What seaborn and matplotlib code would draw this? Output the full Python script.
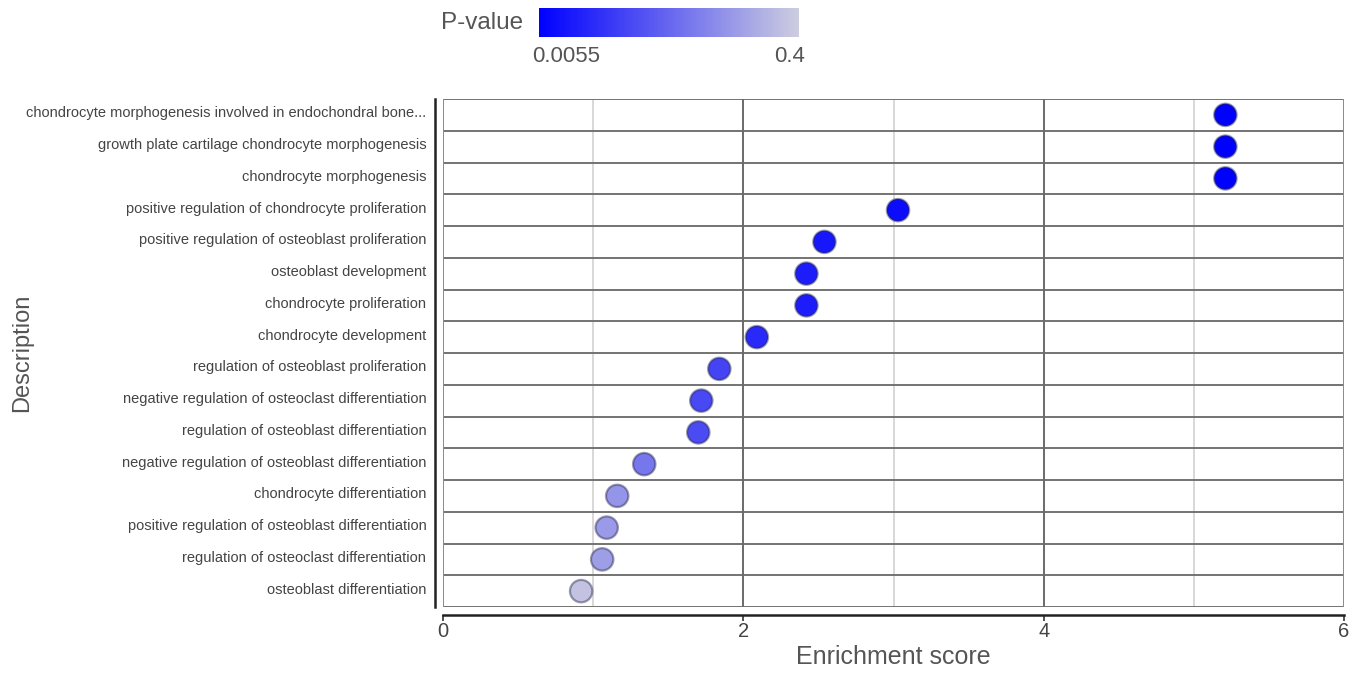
import numpy as np
import pandas as pd
import matplotlib
matplotlib.use("Agg")
import matplotlib.pyplot as plt
from matplotlib.colors import LinearSegmentedColormap, Normalize
from matplotlib.colorbar import ColorbarBase
from matplotlib.transforms import ScaledTranslation
import seaborn as sns

descriptions = [
    "chondrocyte morphogenesis involved in endochondral bone...",
    "growth plate cartilage chondrocyte morphogenesis",
    "chondrocyte morphogenesis",
    "positive regulation of chondrocyte proliferation",
    "positive regulation of osteoblast proliferation",
    "osteoblast development",
    "chondrocyte proliferation",
    "chondrocyte development",
    "regulation of osteoblast proliferation",
    "negative regulation of osteoclast differentiation",
    "regulation of osteoblast differentiation",
    "negative regulation of osteoblast differentiation",
    "chondrocyte differentiation",
    "positive regulation of osteoblast differentiation",
    "regulation of osteoclast differentiation",
    "osteoblast differentiation",
]
enrichment = [5.21, 5.21, 5.21, 3.03, 2.54, 2.42, 2.42, 2.09,
              1.84, 1.72, 1.70, 1.34, 1.16, 1.09, 1.06, 0.92]
pvalues = [0.0055, 0.0055, 0.0055, 0.03, 0.05, 0.062, 0.062, 0.085,
           0.135, 0.145, 0.15, 0.235, 0.29, 0.30, 0.31, 0.38]
p_min, p_max = 0.0055, 0.4
x_ticks = [0, 2, 4, 6]

df = pd.DataFrame({"Description": descriptions,
                   "Enrichment score": enrichment,
                   "P-value": pvalues})

sns.set_theme(style="white")
plt.rcParams["font.family"] = ["Liberation Sans", "DejaVu Sans"]

cmap = LinearSegmentedColormap.from_list("pblue", ["#0000ff", "#cdcde0"])

W, H = 1368, 673
fig = plt.figure(figsize=(W / 100, H / 100), dpi=100)
ax = fig.add_axes([443 / W, 1 - 607 / H, (1344 - 443) / W, (607 - 99) / H])

n = len(descriptions)

# panel grid: row separators and vertical guides
for i in range(n + 1):
    ax.axhline(i - 0.5, color="#737373", lw=1.4, zorder=1)
for xv in [1, 3, 5]:
    ax.axvline(xv, color="#d6d6d6", lw=1.3, zorder=0.5)
for xv in [2, 4]:
    ax.axvline(xv, color="#6a6a6a", lw=1.4, zorder=1)
for xv in [0, 6]:
    ax.axvline(xv, color="#8a8a8a", lw=1.4, zorder=1)

sns.scatterplot(data=df, x="Enrichment score", y="Description",
                hue="P-value", palette=cmap, hue_norm=(p_min, p_max),
                s=260, edgecolor=(0.15, 0.15, 0.3, 0.45), linewidth=1.6,
                legend=False, ax=ax, zorder=3, clip_on=False)

ax.set_xlim(0, 6)
ax.set_ylim(n - 0.5, -0.5)

for side in ["top", "right"]:
    ax.spines[side].set_visible(False)
ax.spines["left"].set_position(("outward", 6))
ax.spines["bottom"].set_position(("outward", 6))
for side in ["left", "bottom"]:
    ax.spines[side].set_color("#222222")
    ax.spines[side].set_linewidth(1.8)

ax.set_xticks(x_ticks)
ax.set_xticklabels([str(t) for t in x_ticks])
ax.tick_params(axis="x", length=4, width=1.2, color="#333333", pad=1,
               bottom=True, labelsize=14.5, labelcolor="#444444")
ax.tick_params(axis="y", length=0, pad=6, labelsize=10.5,
               labelcolor="#444444")
lift = ScaledTranslation(0, 3 / 100, fig.dpi_scale_trans)
for lab in ax.get_yticklabels():
    lab.set_transform(lab.get_transform() + lift)

ax.set_xlabel("Enrichment score", fontsize=18, color="#555555")
ax.xaxis.set_label_coords(0.5, -0.075)
ax.set_ylabel("Description", fontsize=17, color="#555555")
ax.yaxis.set_label_coords(-0.455, 0.5)

# colour scale for the p-values
cax = fig.add_axes([539 / W, 1 - 37 / H, 260 / W, 29 / H])
cb = ColorbarBase(cax, cmap=cmap, norm=Normalize(p_min, p_max),
                  orientation="horizontal")
cb.set_ticks([])
cb.outline.set_visible(False)
fig.text(523 / W, 1 - 23 / H, "P-value", fontsize=17.5, color="#555555",
         ha="right", va="center")
fig.text(566 / W, 1 - 56 / H, f"{p_min}", fontsize=16, color="#555555",
         ha="center", va="center")
fig.text(805 / W, 1 - 56 / H, f"{p_max}", fontsize=16, color="#555555",
         ha="right", va="center")

fig.savefig("out.png", dpi=100)
